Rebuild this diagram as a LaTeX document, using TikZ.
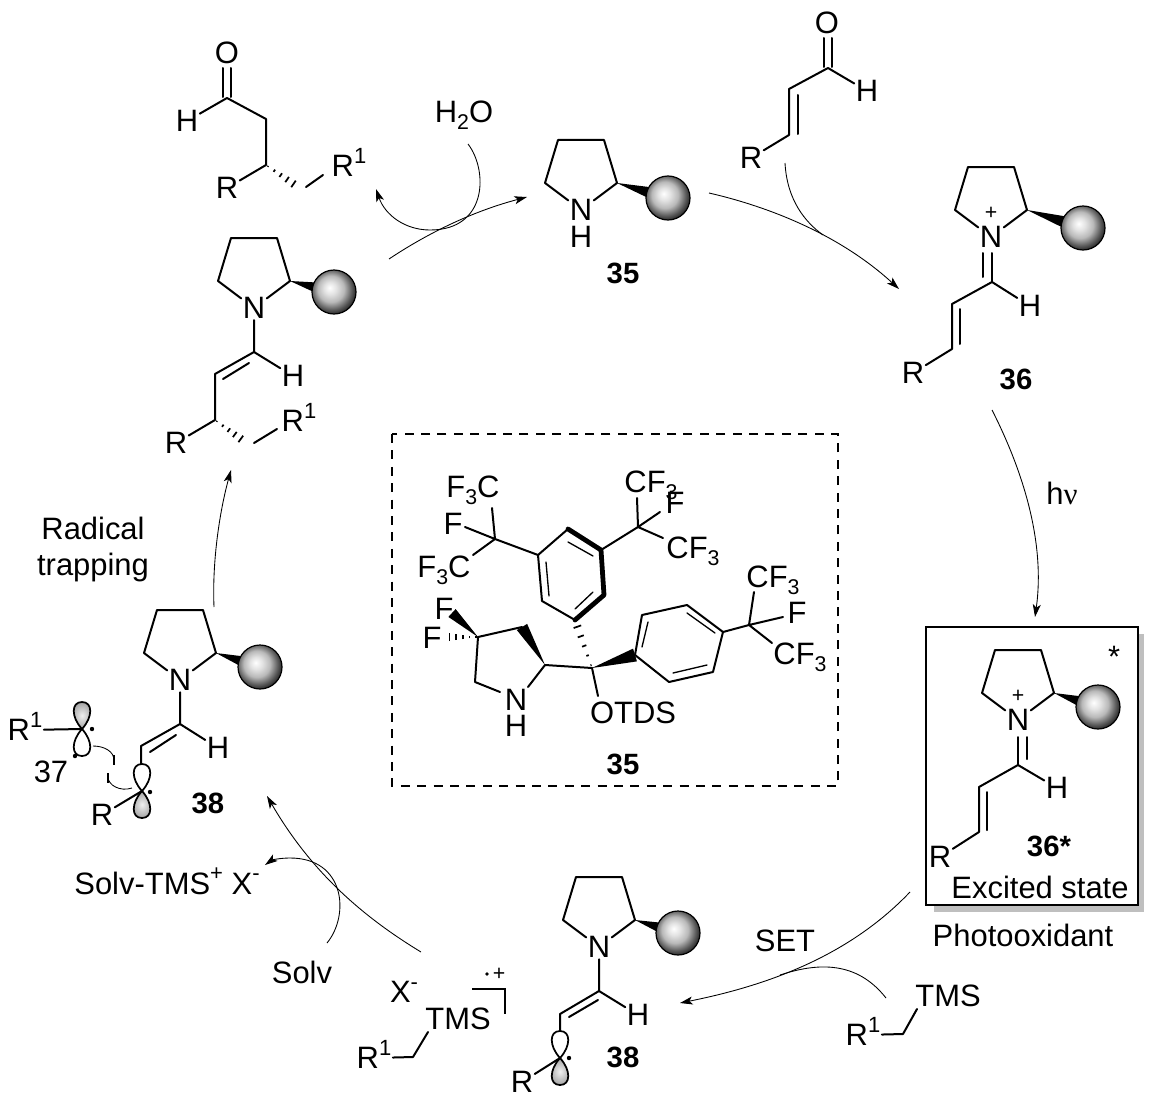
\documentclass[tikz,border=0pt]{standalone}
\usepackage{fontspec}
\setmainfont{Liberation Sans}
\newfontfamily\nufont{Liberation Serif}
\usetikzlibrary{arrows.meta,calc}
\pgfdeclareradialshading{chemball}{\pgfpoint{-5bp}{5bp}}{color(0bp)=(white);color(7bp)=(gray!22);color(15bp)=(gray!55);color(23bp)=(gray!70!black);color(31bp)=(black);color(50bp)=(black)}
\newcommand\subs[1]{\smash{\raisebox{-.22em}{\fontsize{16}{16}\selectfont #1}}}
\newcommand\sups[1]{\smash{\raisebox{.43em}{\fontsize{16.5}{17}\selectfont #1}}}
\tikzset{
  bond/.style={line width=1.5pt,line cap=round,line join=round},
  thinbond/.style={line width=1pt,line cap=round,line join=round},
  boldbond/.style={line width=3.6pt,line cap=round,line join=round},
  rxn/.style={line width=.65pt,-{Stealth[length=9.5pt,width=6pt,inset=2.4pt]}},
  rxnline/.style={line width=.65pt},
  atom/.style={inner sep=1pt,font=\fontsize{23.2}{27}\selectfont},
  lbl/.style={inner sep=0pt,font=\fontsize{22}{27}\selectfont\bfseries},
  gball/.style={draw=black,line width=.9pt,shading=chemball},
  lobewhite/.style={line width=1.3pt,fill=white},
  lobegrey/.style={line width=1.3pt,inner color=gray!12,outer color=gray!72},
}
% tapered solid bond: narrow at #1, half-width #3 at #2
\newcommand\wdg[3]{\fill ($(#2)!#3!90:(#1)$) -- (#1) -- ($(#2)!#3!-90:(#1)$) -- cycle;}
% hashed bond growing from #1 towards #2
\newcommand\hsh[2]{\foreach \t/\w in {.06/.4pt,.26/1pt,.46/1.7pt,.66/2.4pt,.86/3pt}{%
  \draw[line width=1.3pt] ($(#1)!\t!(#2)!\w!90:(#2)$) -- ($(#1)!\t!(#2)!\w!-90:(#2)$);}}
% pyrrolidine ring with sphere: prefix, N x, N y, ball dx, ball dy, N label
\newcommand\pyr[6]{%
  \begin{scope}[shift={(#2,#3)}]
    \node[atom] (#1N) at (0,0) {#6};
    \coordinate (#1a) at (-36,-27);
    \coordinate (#1b) at (-23,-70);
    \coordinate (#1c) at (23,-70);
    \coordinate (#1d) at (36,-27);
    \coordinate (#1s) at (#4,#5);
    \draw[bond] (#1N) -- (#1a) -- (#1b) -- (#1c) -- (#1d) -- (#1N);
    \wdg{#1d}{#1s}{6.5pt}
    \path[gball] (#1s) circle (22);
  \end{scope}}
% p-orbital lobe: x, y, dir (1 up, -1 down), style
\newcommand\lobe[4]{\path[draw=black,#4] (#1,#2) .. controls ({#1-11},{#2-#3*12}) and ({#1-11},{#2-#3*27}) .. ({#1},{#2-#3*27}) .. controls ({#1+11},{#2-#3*27}) and ({#1+11},{#2-#3*12}) .. (#1,#2) -- cycle;}
\begin{document}
\begin{tikzpicture}[x=.75pt,y=-.75pt]
\useasboundingbox (0,0) rectangle (1155,1102);

%%% product aldehyde, top left
\node[atom] (aO) at (227,53) {O};
\node[atom] (aH) at (187,121) {H};
\node[atom] (aR) at (227,188) {R};
\node[atom] (aR1) at (349,166) {R\sups{1}};
\coordinate (a1) at (227,98);
\coordinate (a2) at (266,119);
\coordinate (a3) at (266,165);
\coordinate (a4) at (298,187);
\coordinate (a5) at (306,187);
\coordinate (a6) at (323,175);
\draw[bond] (aH) -- (a1) -- (a2) -- (a3) -- (aR);
\draw[bond] (223,68) -- (223,97) (231,68) -- (231,97);
\hsh{a3}{a4}
\draw[bond] (a5) -- (a6);

%%% enamine with stereocentre
\pyr{b}{254}{308}{80}{-16}{N}
\node[atom] (bH) at (293,376) {H};
\node[atom] (bR) at (176,443) {R};
\node[atom] (bR1) at (299,421) {R\sups{1}};
\coordinate (b1) at (254,352);
\coordinate (b2) at (215,374);
\coordinate (b3) at (215,420);
\coordinate (b4) at (245,442);
\coordinate (b5) at (254,443);
\coordinate (b6) at (277,429);
\draw[bond] (bN) -- (b1) -- (b2) -- (b3) -- (bR);
\draw[bond] (b1) -- (bH);
\draw[bond] (223,379) -- (249,363);
\hsh{b3}{b4}
\draw[bond] (b5) -- (b6);

%%% catalyst 35, top
\pyr{c}{581}{210}{87}{-12}{N}
\node[atom] (cH) at (581,237) {H};
\node[lbl] (c35) at (623,273) {35};
\node[atom] (water) at (464,112) {H\subs{2}O};

%%% enal
\node[atom] (eO) at (827,23) {O};
\node[atom] (eH) at (867,91) {H};
\node[atom] (eR) at (751,158) {R};
\coordinate (e1) at (828,68);
\coordinate (e2) at (789,89);
\coordinate (e3) at (789,135);
\draw[bond] (eH) -- (e1) -- (e2) -- (e3) -- (eR);
\draw[bond] (824,38) -- (824,67) (832,38) -- (832,67);
\draw[bond] (798,95) -- (798,134);

%%% iminium 36
\pyr{d}{991}{237}{92}{-9}{N}
\node[atom] (dplus) at (991,213) {\fontsize{16}{16}\selectfont +};
\node[atom] (dH) at (1030,306) {H};
\node[atom] (dR) at (913,373) {R};
\node[lbl] (d36) at (1016,379) {36};
\coordinate (d1) at (992,282);
\coordinate (d2) at (952,304);
\coordinate (d3) at (952,349);
\draw[bond] (dH) -- (d1) -- (d2) -- (d3) -- (dR);
\draw[bond] (992,253) -- (d1) (983,253) -- (983,277);
\draw[bond] (960,309) -- (960,344);

%%% excited state box
\fill[black!25] (934,634) rectangle (1144,912);
\draw[line width=1.5pt,fill=white] (926,627) rectangle (1138,905);
\node[atom] (star) at (1114,657) {*};
\pyr{f}{1018}{720}{80}{-13}{N}
\node[atom] (fplus) at (1018,696) {\fontsize{16}{16}\selectfont +};
\node[atom] (fH) at (1057,788) {H};
\node[atom] (fR) at (940,857) {R};
\node[lbl] (f36) at (1049,846) {36*};
\node[atom] (fstate) at (1040,887) {Excited state};
\node[atom] (foxid) at (1023,935) {Photooxidant};
\coordinate (f1) at (1018,765);
\coordinate (f2) at (979,787);
\coordinate (f3) at (979,832);
\draw[bond] (fH) -- (f1) -- (f2) -- (f3) -- (fR);
\draw[bond] (1018,737) -- (f1) (1027,737) -- (1027,759);
\draw[bond] (987,792) -- (987,830);

%%% bottom enamine radical 38
\pyr{g}{599}{947}{79}{-14}{N}
\node[atom] (gH) at (638,1015) {H};
\node[atom] (gR) at (522,1082) {R};
\node[lbl] (g38) at (623,1057) {38};
\coordinate (g1) at (599,991);
\coordinate (g2) at (560,1014);
\coordinate (g3) at (560,1032);
\coordinate (g4) at (560,1058);
\draw[bond] (gN) -- (g1) -- (g2) -- (g3);
\draw[bond] (g1) -- (gH);
\draw[bond] (569,1017) -- (598,1000);
\lobe{560}{1058}{1}{lobewhite}
\lobe{560}{1058}{-1}{lobegrey}
\draw[bond] (gR) -- (g4);
\fill (569,1058) circle (2.2);

%%% radical cation
\node[atom] (xX) at (404,992) {X\sups{-}};
\node[atom] (xT) at (458,1019) {TMS};
\node[atom] (xR) at (374,1058) {R\sups{1}};
\coordinate (x1) at (413,1057);
\coordinate (x2) at (428,1032);
\draw[bond] (xR) -- (x1) -- (x2);
\draw[line width=.8pt] (472,989) -- (505,989) -- (505,1014);
\fill (487,974) circle (1.8);
\node[atom] (xplus) at (499,974) {\fontsize{16}{16}\selectfont +};

%%% benzyl silane
\node[atom] (sT) at (948,996) {TMS};
\node[atom] (sR) at (863,1035) {R\sups{1}};
\coordinate (s1) at (903,1034);
\coordinate (s2) at (917,1009);
\draw[bond] (sR) -- (s1) -- (s2);

%%% radical pair, left
\pyr{L}{180}{680}{80}{-13}{N}
\node[atom] (LH) at (218,748) {H};
\node[atom] (LR) at (102,815) {R};
\node[lbl] (L38) at (208,803) {38};
\coordinate (L1) at (180,724);
\coordinate (L2) at (141,746);
\coordinate (L3) at (141,764);
\coordinate (L4) at (142,791);
\draw[bond] (LN) -- (L1) -- (L2) -- (L3);
\draw[bond] (L1) -- (LH);
\draw[bond] (150,752) -- (176,735);
\lobe{142}{791}{1}{lobewhite}
\lobe{142}{791}{-1}{lobegrey}
\draw[bond] (LR) -- (L4);
\fill (150,792) circle (2.2);
\node[atom] (QR) at (25,730) {R\sups{1}};
\node[atom] (Q37) at (51,772) {37};
\coordinate (Q) at (82,729);
\lobe{82}{729}{1}{lobegrey}
\lobe{82}{729}{-1}{lobewhite}
\draw[bond] (QR) -- (Q);
\fill (92,729) circle (2.2);
\fill (75,756) circle (2.2);
\draw[rxnline] (93,746) .. controls (105,746) and (114,752) .. (114,760);
\draw[line width=1.2pt] (114,755) -- (114,765);
\draw[rxnline] (132,788) .. controls (120,792) and (108,785) .. (108,777);
\draw[line width=1.2pt] (108,773) -- (108,783);

%%% dashed box
\draw[line width=1.1pt,dash pattern=on 6.8pt off 5.5pt] (392,434) rectangle (838,786);

%%% catalyst structure
\coordinate (p1) at (538,555);
\coordinate (p2) at (568,529);
\coordinate (p3) at (601,550);
\coordinate (p4) at (604,595);
\coordinate (p5) at (575,620);
\coordinate (p6) at (542,601);
\draw[bond] (p1) -- (p2) (p5) -- (p6) -- (p1);
\draw[boldbond] (p2) -- (p3) -- (p4) -- (p5);
\draw[thinbond] (568,542) -- (593,556) (593,592) -- (575,609) (549,596) -- (546,562);
\node[atom] (n1) at (473,487) {F\subs{3}C};
\node[atom] (n2) at (453,524) {F};
\node[atom] (n3) at (444,567) {F\subs{3}C};
\node[atom] (n4) at (651,482) {CF\subs{3}};
\node[atom] (n6) at (693,548) {CF\subs{3}};
\node[atom] (n5) at (675,503) {F};
\node[atom] (n7) at (773,577) {CF\subs{3}};
\node[atom] (n8) at (797,613) {F};
\node[atom] (n9) at (800,654) {CF\subs{3}};
\node[atom] (nN) at (516,700) {N};
\node[atom] (nH) at (516,726) {H};
\node[atom] (nO) at (633,713) {OTDS};
\node[atom] (nF1) at (444,609) {F};
\node[atom] (nF2) at (432,638) {F};
\node[lbl] (n35) at (623,764) {35};
\coordinate (k1) at (495,539);
\coordinate (k2) at (638,527);
\coordinate (k3) at (749,625);
\draw[bond] (p1) -- (k1) (k1) -- (492,508) (k1) -- (465,527) (k1) -- (473,555);
\draw[bond] (p3) -- (k2) (k2) -- (637,498) (k2) -- (660,512) (k2) -- (663,538);
\coordinate (r1) at (723,632);
\coordinate (r2) at (687,605);
\coordinate (r3) at (642,615);
\coordinate (r4) at (635,655);
\coordinate (r5) at (669,682);
\coordinate (r6) at (713,672);
\draw[bond] (r1) -- (r2) -- (r3) -- (r4) -- (r5) -- (r6) -- (r1);
\draw[thinbond] (687,613) -- (715,633) (707,665) -- (673,673) (648,622) -- (642,647);
\draw[bond] (r1) -- (k3) (k3) -- (754,592) (k3) -- (783,617) (k3) -- (772,643);
\coordinate (m) at (592,668);
\coordinate (t2) at (545,665);
\coordinate (t3) at (522,627);
\coordinate (t4) at (478,637);
\coordinate (t5) at (475,682);
\wdg{m}{r4}{5pt}
\hsh{m}{p5}
\draw[bond] (m) -- (598,696);
\draw[bond] (t2) -- (m);
\wdg{t2}{t3}{4.5pt}
\draw[bond] (t4) -- (t3);
\draw[bond] (t4) -- (t5) -- (500,692);
\draw[bond] (528,687) -- (t2);
\coordinate (t6) at (452,613);
\coordinate (t7) at (445,637);
\wdg{t4}{t6}{4pt}
\hsh{t4}{t7}

%%% labels
\node[atom,align=center] (trap) at (93,549) {Radical\\trapping};
\node[atom] (hnu) at (1062,493) {h{\nufont ν}};
\node[atom] (setl) at (785,941) {SET};
\node[atom] (solv) at (302,972) {Solv};
\node[atom] (stms) at (167,883) {Solv-TMS\sups{+} X\sups{-}};

%%% reaction arrows
\coordinate (A1) at (389,259);
\coordinate (A2) at (527,197);
\draw[rxn] (A1) .. controls (425,235) and (470,212) .. (A2);
\coordinate (B1) at (468,144);
\coordinate (B2) at (376,189);
\draw[rxn] (B1) .. controls (488,170) and (488,230) .. (430,230) .. controls (405,230) and (385,215) .. (B2);
\coordinate (C1) at (709,193);
\coordinate (C2) at (899,289);
\draw[rxn] (C1) .. controls (770,207) and (840,235) .. (C2);
\coordinate (D1) at (785,163);
\coordinate (D2) at (823,235);
\draw[rxnline] (D1) .. controls (787,200) and (805,222) .. (D2);
\coordinate (E1) at (992,410);
\coordinate (E2) at (1035,617);
\draw[rxn] (E1) .. controls (1025,475) and (1045,545) .. (E2);
\coordinate (F1) at (910,892);
\coordinate (F2) at (680,1003);
\draw[rxn] (F1) .. controls (850,955) and (770,985) .. (F2);
\coordinate (G1) at (886,998);
\coordinate (G2) at (780,975);
\draw[rxnline] (G1) .. controls (860,965) and (825,960) .. (G2);
\coordinate (H1) at (421,952);
\coordinate (H2) at (267,796);
\draw[rxn] (H1) .. controls (360,915) and (310,870) .. (H2);
\coordinate (I1) at (327,943);
\coordinate (I2) at (265,865);
\draw[rxn] (I1) .. controls (350,915) and (345,858) .. (290,858) .. controls (280,858) and (272,860) .. (I2);
\coordinate (J1) at (214,607);
\coordinate (J2) at (231,470);
\draw[rxn] (J1) .. controls (212,560) and (220,510) .. (J2);
\end{tikzpicture}
\end{document}
